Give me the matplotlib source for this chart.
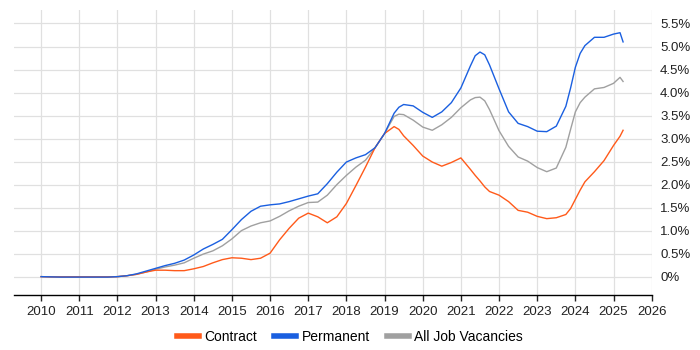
import matplotlib
matplotlib.use("Agg")
import matplotlib.pyplot as plt
from matplotlib.ticker import FuncFormatter

plt.rcParams['font.family'] = ['Liberation Sans Narrow', 'Liberation Sans', 'DejaVu Sans']

dates = [2010.0, 2010.25, 2010.5, 2010.75, 2011.0, 2011.25, 2011.5, 2011.75,
         2012.0, 2012.25, 2012.5, 2012.75, 2013.0, 2013.25, 2013.5, 2013.75,
         2014.0, 2014.25, 2014.5, 2014.75, 2015.0, 2015.25, 2015.5, 2015.75,
         2016.0, 2016.25, 2016.5, 2016.75, 2017.0, 2017.25, 2017.5, 2017.75,
         2018.0, 2018.25, 2018.5, 2018.75, 2019.0, 2019.25, 2019.375, 2019.5, 2019.75,
         2020.0, 2020.25, 2020.5, 2020.75, 2021.0, 2021.25, 2021.375, 2021.5, 2021.625, 2021.75,
         2022.0, 2022.25, 2022.5, 2022.75, 2023.0, 2023.25, 2023.5, 2023.75, 2023.875,
         2024.0, 2024.125, 2024.25, 2024.5, 2024.75, 2025.0, 2025.17, 2025.25]

contract = [0.0, -0.005, -0.005, -0.005, -0.005, -0.005, -0.005, -0.005,
            0.0, 0.02, 0.05, 0.10, 0.14, 0.14, 0.13, 0.13,
            0.17, 0.22, 0.30, 0.37, 0.41, 0.40, 0.37, 0.40,
            0.51, 0.80, 1.05, 1.27, 1.38, 1.30, 1.17, 1.30,
            1.59, 1.98, 2.38, 2.80, 3.11, 3.26, 3.20, 3.06, 2.85,
            2.62, 2.49, 2.40, 2.48, 2.58, 2.33, 2.20, 2.08, 1.95, 1.85,
            1.77, 1.63, 1.44, 1.40, 1.31, 1.26, 1.28, 1.35, 1.48,
            1.68, 1.88, 2.06, 2.28, 2.52, 2.85, 3.05, 3.18]

permanent = [0.0, -0.005, -0.01, -0.01, -0.01, -0.01, -0.01, -0.01,
             0.0, 0.02, 0.06, 0.12, 0.18, 0.24, 0.29, 0.36,
             0.47, 0.60, 0.70, 0.81, 1.02, 1.24, 1.42, 1.53,
             1.56, 1.58, 1.63, 1.69, 1.75, 1.80, 2.02, 2.27,
             2.49, 2.58, 2.65, 2.80, 3.11, 3.55, 3.68, 3.74, 3.71,
             3.57, 3.46, 3.58, 3.78, 4.10, 4.58, 4.80, 4.88, 4.82, 4.60,
             4.08, 3.58, 3.33, 3.26, 3.16, 3.15, 3.27, 3.70, 4.10,
             4.55, 4.85, 5.02, 5.20, 5.20, 5.27, 5.30, 5.10]

all_jobs = [0.0, -0.005, -0.005, -0.005, -0.005, -0.005, -0.005, -0.005,
            0.0, 0.02, 0.05, 0.10, 0.16, 0.21, 0.25, 0.30,
            0.40, 0.49, 0.56, 0.67, 0.82, 1.00, 1.10, 1.17,
            1.21, 1.31, 1.43, 1.53, 1.61, 1.62, 1.77, 2.00,
            2.20, 2.38, 2.53, 2.80, 3.11, 3.48, 3.53, 3.52, 3.40,
            3.25, 3.18, 3.30, 3.46, 3.67, 3.84, 3.89, 3.90, 3.82, 3.63,
            3.17, 2.83, 2.60, 2.51, 2.37, 2.28, 2.36, 2.81, 3.20,
            3.58, 3.78, 3.90, 4.08, 4.11, 4.20, 4.33, 4.24]

year_ticks = list(range(2010, 2027))
pct_ticks = [0, 0.5, 1.0, 1.5, 2.0, 2.5, 3.0, 3.5, 4.0, 4.5, 5.0, 5.5]

fig = plt.figure(figsize=(7, 3.5), dpi=100)
ax = fig.add_axes([0.02, 0.157, 0.911, 0.814])

ax.plot(dates, contract, color='#FF5A1A', lw=1.0, label='Contract', zorder=3)
ax.plot(dates, permanent, color='#1A5FE0', lw=1.0, label='Permanent', zorder=3)
ax.plot(dates, all_jobs, color='#A0A0A0', lw=1.0, label='All Job Vacancies', zorder=2)

ax.set_xlim(2009.29, 2026)
ax.set_ylim(-0.40, 5.79)
ax.set_xticks(year_ticks)
ax.set_xticklabels([str(y) for y in year_ticks])
ax.set_yticks(pct_ticks)
ax.yaxis.set_major_formatter(FuncFormatter(lambda v, p: '0%' if v == 0 else f'{v:.1f}%'))
ax.yaxis.tick_right()
ax.tick_params(axis='y', length=0, labelsize=9.5, colors='#222222', pad=6)
ax.tick_params(axis='x', length=4, width=1, labelsize=9.5, colors='#222222', pad=4)

ax.grid(True, color='#E0E0E0', lw=0.9)
ax.set_axisbelow(True)
for s in ['top', 'left', 'right']:
    ax.spines[s].set_visible(False)
ax.spines['bottom'].set_color('#000000')
ax.spines['bottom'].set_linewidth(1.0)

leg = fig.legend(loc='lower center', bbox_to_anchor=(0.5, -0.018), ncol=3, frameon=False,
                 fontsize=10, handlelength=1.6, handletextpad=0.4, columnspacing=1.2)
for h in leg.get_lines():
    h.set_linewidth(4)

fig.savefig('out.png', dpi=100)
